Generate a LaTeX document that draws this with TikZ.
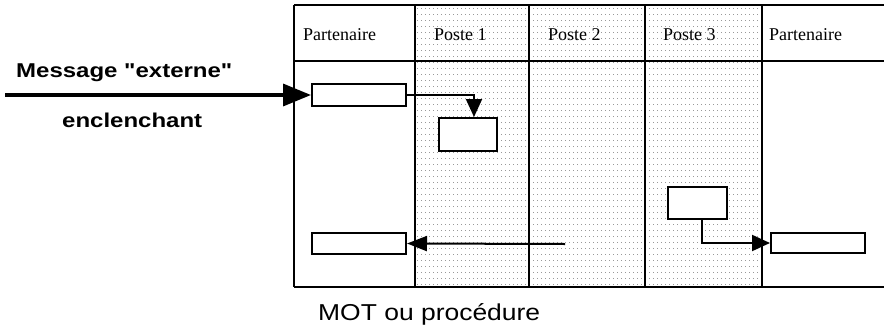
\documentclass[tikz,border=0pt]{standalone}
\usepackage{fontspec}
\setmainfont{Liberation Serif}
\newfontfamily\arial{Liberation Sans}
\usetikzlibrary{arrows.meta}

\begin{document}
\begin{tikzpicture}[x=1pt,y=-1pt,
  cadre/.style={line width=2pt},
  grille/.style={gray!80,line width=0.8pt,dash pattern=on 1.2pt off 2.8pt},
  boite/.style={draw,line width=2pt,fill=white,inner sep=0pt},
  lien/.style={line width=2pt},
  titre/.style={anchor=base west,inner sep=0pt,font=\fontsize{18}{20}\selectfont},
  gras/.style={anchor=base west,inner sep=0pt,font=\arial\bfseries\fontsize{20}{22}\selectfont}]
\useasboundingbox (0,0) rectangle (884,327);
% fond pointille des postes
\foreach \y in {8,14,...,284} \draw[grille] (417,\y) -- (761,\y);
% tableau
\draw[cadre] (294,5)--(884,5); \draw[cadre] (294,61)--(884,61); \draw[cadre] (294,287)--(884,287);
\foreach \x in {294,415,529,645,762} \draw[cadre] (\x,5)--(\x,287);
\node[titre] (p0) at (303,40) {Partenaire};
\node[titre] (p1) at (434,40) {Poste 1};
\node[titre] (p2) at (548,40) {Poste 2};
\node[titre] (p3) at (663,40) {Poste 3};
\node[titre] (p4) at (769,40) {Partenaire};
% boites
\node[boite,minimum width=94pt,minimum height=22pt] (A) at (359,95) {};
\node[boite,minimum width=58pt,minimum height=33pt] (B) at (468,134.5) {};
\node[boite,minimum width=59pt,minimum height=32pt] (C) at (697.5,203) {};
\node[boite,minimum width=94pt,minimum height=20pt] (D) at (818,243) {};
\node[boite,minimum width=94pt,minimum height=21pt] (E) at (359,243.5) {};
% liens
\coordinate (src) at (5,95); \coordinate (ret) at (565,244);
\draw[line width=3.5pt,-{Triangle[length=28pt,width=22pt]}] (src) -- (A.west);
\draw[lien,-{Triangle[length=18pt,width=16pt]}] (A.east) -| ([xshift=6pt]B.north);
\draw[lien,-{Triangle[length=18pt,width=16pt]}] ([xshift=4pt]C.south) |- (D.west);
\draw[lien,-{Triangle[length=20pt,width=15pt]}] (ret) -- (E.east);
% textes
\node[gras] (m1) at (16,77) {\scalebox{1.2}[1]{Message "externe"}};
\node[gras] (m2) at (62,127) {\scalebox{1.2}[1]{enclenchant}};
\node[anchor=base west,inner sep=0pt,font=\arial\fontsize{23}{25}\selectfont] (mot) at (318,320) {\scalebox{1.15}[1]{MOT ou procédure}};
\end{tikzpicture}
\end{document}
